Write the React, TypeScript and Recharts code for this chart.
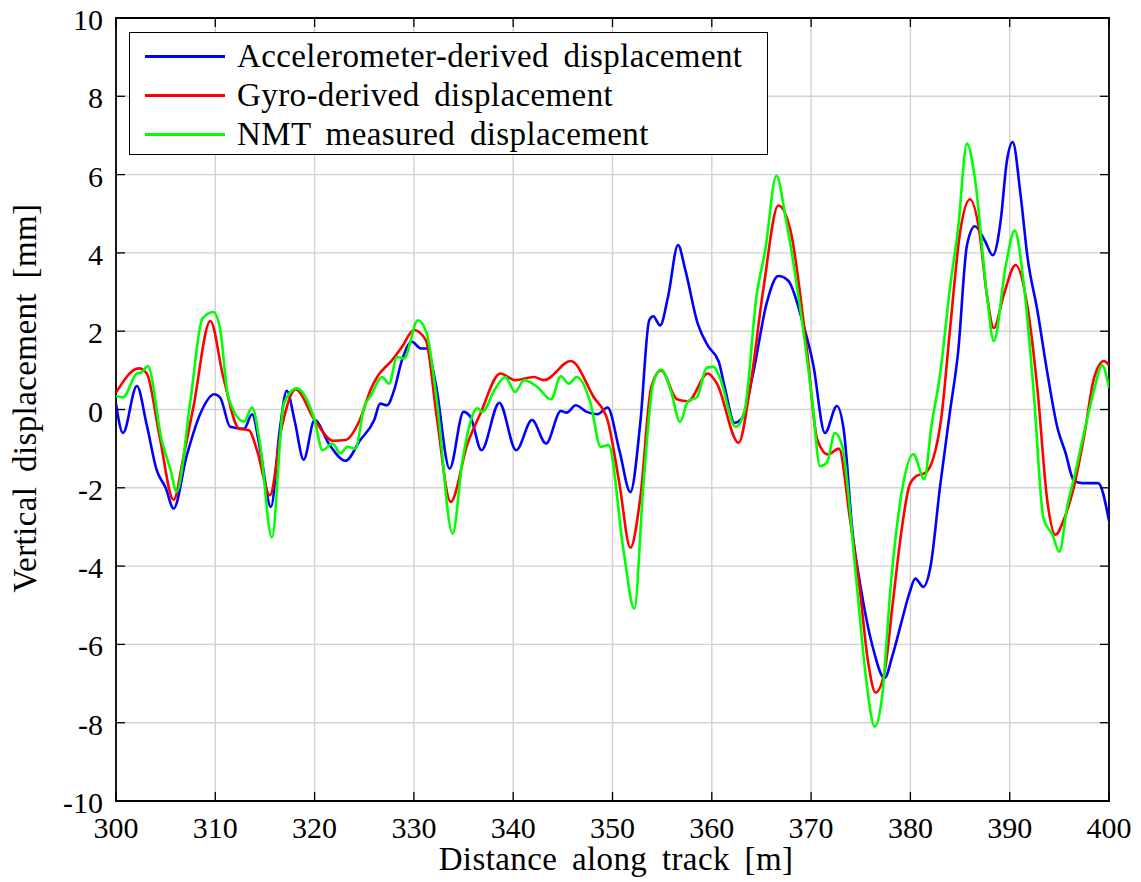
import React from 'react';
import { LineChart, Line, XAxis, YAxis, CartesianGrid, ReferenceArea, Legend } from 'recharts';

const accelX = [300, 300.7, 302.1, 303.1, 304.1, 305, 305.8, 307.1, 308.5, 309.9, 310.5, 311.5, 312.9, 313.7, 314.5, 315.6, 316.5, 317.2, 318, 318.9, 320, 321.5, 323.1, 324.6, 326, 326.6, 327.3, 328, 328.8, 329.8, 330.7, 331.3, 332.2, 333.6, 335, 335.7, 336.8, 338.6, 340.3, 341.9, 343.3, 344.8, 345.4, 346.3, 347.4, 348.5, 349.5, 350.7, 351.8, 352.8, 353.7, 354.1, 354.8, 355.6, 356.6, 357.3, 358.6, 359.6, 360.7, 361.3, 362.3, 363, 364.2, 365.5, 366.7, 367.7, 369.1, 370.2, 371.4, 372.6, 373.3, 374.2, 374.9, 376.2, 377.4, 378.2, 379.1, 379.9, 380.5, 381.3, 382, 383, 384, 384.8, 385.7, 386.5, 387.5, 388.3, 389.1, 389.7, 390.3, 391.1, 391.8, 392.8, 393.8, 394.8, 395.6, 396.5, 397.3, 398.9, 400];
const accelY = [0.15, -0.6, 0.6, -0.4, -1.55, -2.0, -2.53, -1.2, -0.1, 0.39, 0.3, -0.44, -0.49, -0.12, -1.0, -2.49, -0.5, 0.48, -0.3, -1.28, -0.27, -0.9, -1.31, -0.78, -0.27, 0.15, 0.11, 0.49, 1.26, 1.73, 1.56, 1.56, 0.66, -1.51, -0.06, -0.19, -1.04, 0.17, -1.04, -0.27, -0.87, -0.04, -0.08, 0.11, -0.06, -0.12, 0.05, -1.05, -2.11, -0.34, 2.28, 2.38, 2.15, 2.89, 4.2, 3.6, 2.18, 1.63, 1.22, 0.57, -0.34, -0.24, 0.97, 2.69, 3.41, 3.29, 2.28, 1.17, -0.6, 0.09, -0.55, -3.2, -4.4, -6.06, -6.86, -6.28, -5.43, -4.69, -4.32, -4.53, -4.05, -1.94, -0.03, 1.45, 4.2, 4.68, 4.31, 3.94, 4.84, 6.32, 6.83, 5.47, 3.88, 2.51, 0.92, -0.46, -1.09, -1.83, -1.88, -1.88, -2.84];

const gyroX = [300, 302.3, 303.1, 304.4, 305.8, 306.8, 307.8, 309.5, 310.8, 312.4, 313.4, 314.2, 315.5, 316.7, 318.1, 320, 321.9, 323.1, 324.5, 325.7, 326.3, 327.8, 328.8, 330, 331.2, 332.3, 333.7, 335.4, 336.7, 338.7, 340.2, 342.1, 343.1, 345.8, 348.1, 349.5, 350.7, 351.8, 352.8, 353.9, 354.9, 356.5, 357.6, 359.6, 360.5, 362.7, 363.8, 365.2, 366.7, 367.9, 369.6, 370.6, 371.7, 372.8, 373.9, 374.9, 375.7, 376.5, 377.4, 378.2, 379.1, 379.9, 380.6, 381.5, 382.3, 383.1, 384, 385, 386, 386.9, 387.7, 388.4, 389.4, 390.6, 391.8, 392.8, 393.8, 394.6, 395.5, 396.5, 397.5, 398.5, 399.5, 400];
const gyroY = [0.43, 1.05, 0.92, -0.7, -2.31, -1.2, 0.07, 2.26, 0.83, -0.49, -0.53, -1.04, -2.19, -0.44, 0.51, -0.27, -0.8, -0.78, -0.3, 0.54, 0.83, 1.26, 1.6, 2.03, 1.77, -0.19, -2.36, -0.87, -0.1, 0.92, 0.75, 0.83, 0.75, 1.24, 0.32, -0.27, -1.9, -3.53, -2.26, 0.57, 1.0, 0.26, 0.21, 0.92, 0.67, -0.85, 0.46, 3.09, 5.21, 4.6, 1.47, -0.75, -1.15, -1.0, -2.77, -4.58, -6.38, -7.23, -6.7, -5.0, -3.1, -1.94, -1.7, -1.62, -1.25, -0.24, 2.08, 4.52, 5.37, 4.62, 2.93, 2.08, 2.93, 3.69, 2.61, 0.5, -2.36, -3.2, -2.78, -1.94, -0.67, 0.81, 1.24, 1.13];

const nmtX = [300, 300.7, 302.1, 302.6, 303.2, 304.6, 305.5, 306.1, 307.5, 308.7, 309.8, 310.5, 311.3, 312.9, 313.7, 314.5, 315.7, 316.9, 318.2, 320, 320.8, 321.8, 322.6, 323.3, 324.1, 325, 325.7, 326.8, 327.5, 328.3, 329, 330.4, 331.3, 332.3, 333.9, 334.9, 336.4, 336.9, 338.1, 339.2, 340.2, 341.1, 342.4, 343.8, 344.8, 345.6, 346.4, 347.8, 348.8, 349.6, 351.1, 352.2, 353.1, 354.1, 354.9, 355.9, 356.8, 357.6, 358.5, 359.5, 360.2, 360.8, 362.4, 363.3, 364.5, 365.4, 366.5, 367.5, 368.9, 370.1, 370.9, 371.6, 372.4, 373.1, 374.6, 375.5, 376.4, 377.1, 378.1, 379.1, 380.3, 381.4, 382.1, 383, 384, 384.8, 385.7, 386.5, 387.7, 388.4, 389.6, 390.5, 391.4, 392.4, 393.4, 394.3, 395, 395.8, 396.6, 397.8, 398.5, 399.3, 400];
const nmtY = [0.34, 0.31, 0.92, 0.95, 1.11, -0.78, -1.55, -2.1, 0.24, 2.32, 2.49, 2.03, 0.32, -0.31, 0.05, -0.87, -3.27, 0.15, 0.54, -0.27, -1.04, -0.87, -1.12, -0.95, -1.0, 0.07, 0.37, 0.83, 0.66, 1.34, 1.3, 2.28, 1.94, 0.24, -3.17, -1.29, 0.03, -0.06, 0.49, 0.83, 0.45, 0.75, 0.58, 0.26, 0.85, 0.66, 0.83, 0.15, -0.95, -0.91, -3.58, -5.09, -1.96, 0.67, 1.02, 0.46, -0.32, 0.21, 0.31, 1.07, 1.09, 0.82, -0.44, -0.04, 2.89, 4.1, 5.97, 4.8, 2.59, 0.26, -1.45, -1.35, -0.6, -0.9, -4.48, -6.8, -8.1, -7.44, -4.26, -2.15, -1.14, -1.78, -0.46, 0.92, 3.14, 4.62, 6.79, 5.89, 2.93, 1.75, 3.67, 4.57, 3.25, 0.5, -2.78, -3.2, -3.63, -2.47, -1.62, -0.24, 0.5, 1.13, 0.55];

const xTicks = [300, 310, 320, 330, 340, 350, 360, 370, 380, 390, 400];
const yTicks = [-10, -8, -6, -4, -2, 0, 2, 4, 6, 8, 10];

const seriesNames = ['Accelerometer-derived displacement', 'Gyro-derived displacement', 'NMT measured displacement'];
const seriesColors = ['#0000ff', '#ff0000', '#00ff00'];

const toPoints = (xs: number[], ys: number[]) => xs.map((x, i) => ({ x, y: ys[i] }));
const accelData = toPoints(accelX, accelY);
const gyroData = toPoints(gyroX, gyroY);
const nmtData = toPoints(nmtX, nmtY);

const W = 1125;
const H = 874;
const PL = 108;
const PR = 1101;
const PT = 10;
const PB = 793;
const FONT = 'Liberation Serif, DejaVu Serif, serif';
const FS = 33;
const TFS = 30;

const XTick = (props: any) => {
  const { x, payload } = props;
  return (
    <g>
      <line x1={x} x2={x} y1={PB} y2={PB - 9} stroke="#000" strokeWidth={1.3} />
      <line x1={x} x2={x} y1={PT} y2={PT + 9} stroke="#000" strokeWidth={1.3} />
      <text x={x} y={830} textAnchor="middle" style={{ fontFamily: FONT, fontSize: TFS }} fill="#000">{payload.value}</text>
    </g>
  );
};

const YTick = (props: any) => {
  const { y, payload } = props;
  return (
    <g>
      <line x1={PL} x2={PL + 9} y1={y} y2={y} stroke="#000" strokeWidth={1.3} />
      <line x1={PR} x2={PR - 9} y1={y} y2={y} stroke="#000" strokeWidth={1.3} />
      <text x={95} y={y} dy="0.4em" textAnchor="end" style={{ fontFamily: FONT, fontSize: TFS }} fill="#000">{payload.value}</text>
    </g>
  );
};

const LegendBox = () => (
  <div style={{ width: 639, height: 123, boxSizing: 'border-box', border: '1.8px solid #000', background: '#fff', position: 'relative', fontFamily: FONT, fontSize: FS }}>
    {seriesNames.map((name, i) => (
      <div key={name} style={{ position: 'absolute', left: 0, top: 4 + i * 39, height: 39, display: 'flex', alignItems: 'center', whiteSpace: 'nowrap' }}>
        <div style={{ width: 80, height: 3, background: seriesColors[i], marginLeft: 15, marginRight: 12 }} />
        <span style={{ lineHeight: '39px', wordSpacing: 6, letterSpacing: 0.4, color: '#000' }}>{name}</span>
      </div>
    ))}
  </div>
);

export default function App() {
  return (
    <div style={{ width: W, height: H, fontFamily: FONT, background: '#fff' }}>
      <LineChart width={W} height={H} margin={{ top: PT, right: W - PR, bottom: 0, left: 0 }}>
        <CartesianGrid stroke="#d2d2d2" strokeWidth={1.4} verticalValues={xTicks} horizontalValues={yTicks} />
        <XAxis
          dataKey="x"
          type="number"
          domain={[300, 400]}
          ticks={xTicks}
          interval={0}
          allowDataOverflow
          height={H - PB}
          axisLine={false}
          tickLine={false}
          tick={XTick}
          label={() => (
            <text x={608} y={862} textAnchor="middle" style={{ fontFamily: FONT, fontSize: FS, wordSpacing: 6, letterSpacing: 0.4 }} fill="#000">
              Distance along track [m]
            </text>
          )}
        />
        <YAxis
          type="number"
          domain={[-10, 10]}
          ticks={yTicks}
          interval={0}
          allowDataOverflow
          width={PL}
          axisLine={false}
          tickLine={false}
          tick={YTick}
          label={() => (
            <text x={28} y={390} transform="rotate(-90, 28, 390)" textAnchor="middle" style={{ fontFamily: FONT, fontSize: FS, wordSpacing: 6, letterSpacing: 0.4 }} fill="#000">
              Vertical displacement [mm]
            </text>
          )}
        />
        <ReferenceArea x1={300} x2={400} y1={-10} y2={10} fill="none" stroke="#000" strokeWidth={1.8} ifOverflow="visible" />
        <Line data={accelData} dataKey="y" name={seriesNames[0]} type="monotone" stroke={seriesColors[0]} strokeWidth={2.6} dot={false} isAnimationActive={false} />
        <Line data={gyroData} dataKey="y" name={seriesNames[1]} type="monotone" stroke={seriesColors[1]} strokeWidth={2.6} dot={false} isAnimationActive={false} />
        <Line data={nmtData} dataKey="y" name={seriesNames[2]} type="monotone" stroke={seriesColors[2]} strokeWidth={2.6} dot={false} isAnimationActive={false} />
        <Legend
          layout="horizontal"
          verticalAlign="middle"
          align="center"
          wrapperStyle={{ left: 121, top: 24, width: 639, height: 123 }}
          content={() => <LegendBox />}
        />
      </LineChart>
    </div>
  );
}
